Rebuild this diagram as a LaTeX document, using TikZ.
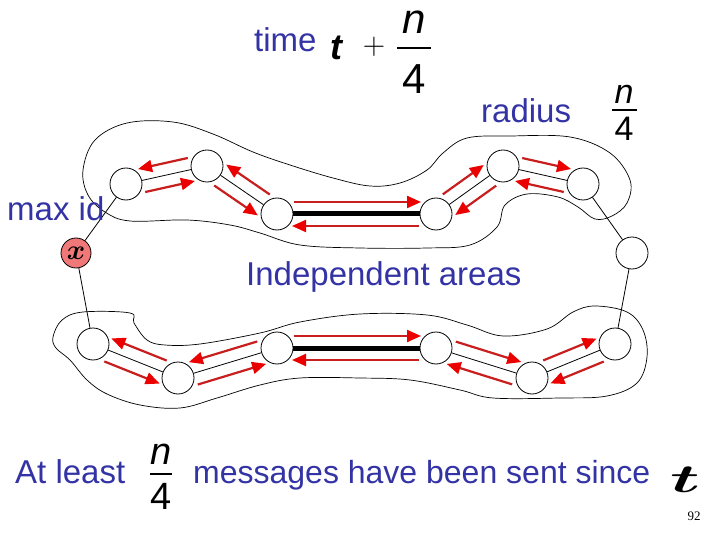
\RequirePackage{fix-cm}
\documentclass[tikz,border=0pt]{standalone}
\usepackage{fontspec}
\usepackage{amsmath}
\setmainfont{Liberation Sans}
\newfontfamily\pagenumfont{Liberation Serif}
\usetikzlibrary{arrows.meta, calc}
\definecolor{slideblue}{RGB}{51,51,165}
\definecolor{msgred}{RGB}{200,30,30}
\definecolor{headred}{RGB}{235,0,0}
\definecolor{maxred}{RGB}{240,120,120}

% message arrow along an edge, shifted sideways (positive = left of travel)
\newcommand{\sendmsg}[3]{\draw[msg] ($(#1)!17pt!(#2)!#3!90:(#2)$) -- ($(#2)!15pt!(#1)!#3!-90:(#1)$);}

\begin{document}
\begin{tikzpicture}[x=1pt, y=-1pt,
  proc/.style={draw, circle, fill=white, minimum size=32pt, inner sep=0pt, line width=0.8pt},
  link/.style={line width=0.8pt},
  msg/.style={draw=msgred, line width=2.2pt, -{Triangle[length=14pt, width=12pt, color=headred]}},
  lbl/.style={text=slideblue, inner sep=0pt, anchor=base west, font=\fontsize{33}{36}\selectfont},
  fracpart/.style={inner sep=0pt, anchor=base},
  fracbar/.style={line width=1.6pt},
  area/.style={line width=0.7pt}]
\useasboundingbox (0,0) rectangle (720,540);

% --- areas (outlines) ---
\draw[area] plot[smooth cycle, tension=0.6] coordinates {(83,170) (95,140) (127,123) (173,122) (213,134) (253,152) (290,165) (333,178) (370,186) (400,183) (427,170) (443,153) (467,138) (510,136) (570,137) (610,153) (630,180) (627,203) (612,216) (595,219) (578,207) (558,197) (527,194) (505,205) (497,227) (470,245) (427,248) (360,248) (300,245) (260,233) (230,225) (187,220) (130,221) (105,212) (88,195)};
\draw[area] plot[smooth cycle, tension=0.6] coordinates {(53,337) (62,320) (83,312) (130,313) (134,323) (147,340) (165,345) (200,344) (260,333) (300,322) (360,314) (427,315) (467,325) (503,336) (547,329) (573,312) (595,306) (627,312) (643,330) (647,357) (637,383) (607,396) (560,398) (493,398) (460,390) (410,380) (360,378) (300,378) (260,385) (217,398) (180,408) (140,405) (107,394) (87,380) (70,360) (56,348)};

% --- processors ---
\node[proc] (a1) at (126,184) {};
\node[proc] (a2) at (207,166) {};
\node[proc] (a3) at (277,214) {};
\node[proc] (a4) at (436,214) {};
\node[proc] (a5) at (503,166) {};
\node[proc] (a6) at (583,184) {};
\node[proc] (r)  at (632,253) {};
\node[proc] (b1) at (93,344) {};
\node[proc] (b2) at (178,378) {};
\node[proc] (b3) at (277,348) {};
\node[proc] (b4) at (436,348) {};
\node[proc] (b5) at (532,378) {};
\node[proc] (b6) at (615,344) {};
\node[proc, fill=maxred, minimum size=30pt] (x) at (76,253) {\fontsize{28}{28}\selectfont$\boldsymbol{x}$};

% ring edges
\draw[link] (x) -- (a1);
\draw[link] (x) -- (b1);
\draw[link] (r) -- (a6);
\draw[link] (r) -- (b6);
\draw[link] (a1) -- (a2);
\draw[link] (a2) -- (a3);
\draw[line width=5pt] (a3) -- (a4);
\draw[link] (a4) -- (a5);
\draw[link] (a5) -- (a6);
\draw[link] (b1) -- (b2);
\draw[link] (b2) -- (b3);
\draw[line width=5pt] (b3) -- (b4);
\draw[link] (b4) -- (b5);
\draw[link] (b5) -- (b6);

% --- messages ---
\sendmsg{a2}{a1}{-12pt}
\sendmsg{a1}{a2}{-12pt}
\sendmsg{a3}{a2}{-12pt}
\sendmsg{a2}{a3}{-12pt}
\sendmsg{a3}{a4}{12pt}
\sendmsg{a4}{a3}{12pt}
\sendmsg{a4}{a5}{12pt}
\sendmsg{a5}{a4}{12pt}
\sendmsg{a5}{a6}{12pt}
\sendmsg{a6}{a5}{12pt}
\sendmsg{b2}{b1}{-12pt}
\sendmsg{b1}{b2}{-12pt}
\sendmsg{b3}{b2}{-12pt}
\sendmsg{b2}{b3}{-12pt}
\sendmsg{b3}{b4}{12pt}
\sendmsg{b4}{b3}{12pt}
\sendmsg{b4}{b5}{12pt}
\sendmsg{b5}{b4}{12pt}
\sendmsg{b5}{b6}{12pt}
\sendmsg{b6}{b5}{12pt}

% --- texts ---
\node[lbl] (time) at (254,52) {time};
\node[fracpart, font=\fontsize{36}{36}\selectfont\bfseries\itshape] (tt) at (336,60) {t};
\node[inner sep=0pt, font=\fontsize{31}{31}\selectfont] (plus) at (374,47) {$+$};
\node[fracpart, font=\fontsize{42}{42}\selectfont\itshape] (tn) at (414,34) {n};
\draw[fracbar] (397,48) -- (431,48);
\node[fracpart, font=\fontsize{42}{42}\selectfont] (td) at (414,94) {4};

\node[lbl] (radius) at (481,123) {radius};
\node[fracpart, font=\fontsize{34}{34}\selectfont\itshape] (rn) at (624,104) {n};
\draw[fracbar] (612,110) -- (637,110);
\node[fracpart, font=\fontsize{34}{34}\selectfont] (rd) at (624,141) {4};

\node[lbl] (maxid) at (7,221) {max id};
\node[lbl] (indep) at (246,285) {Independent areas};

\node[lbl] (least) at (15,483) {At least};
\node[fracpart, font=\fontsize{38}{38}\selectfont\itshape] (bn) at (161,464) {n};
\draw[fracbar] (150,474) -- (172,474);
\node[fracpart, font=\fontsize{38}{38}\selectfont] (bd) at (161,509) {4};
\node[lbl, font=\fontsize{32}{36}\selectfont] (sent) at (193,483) {messages have been sent since};
\node[fracpart, font=\fontsize{40}{40}\selectfont] (since) at (685,492) {\scalebox{1.8}[1]{$\boldsymbol{t}$}};
\node[inner sep=0pt, font=\fontsize{13}{13}\pagenumfont] (page) at (694,516) {92};

\end{tikzpicture}
\end{document}
